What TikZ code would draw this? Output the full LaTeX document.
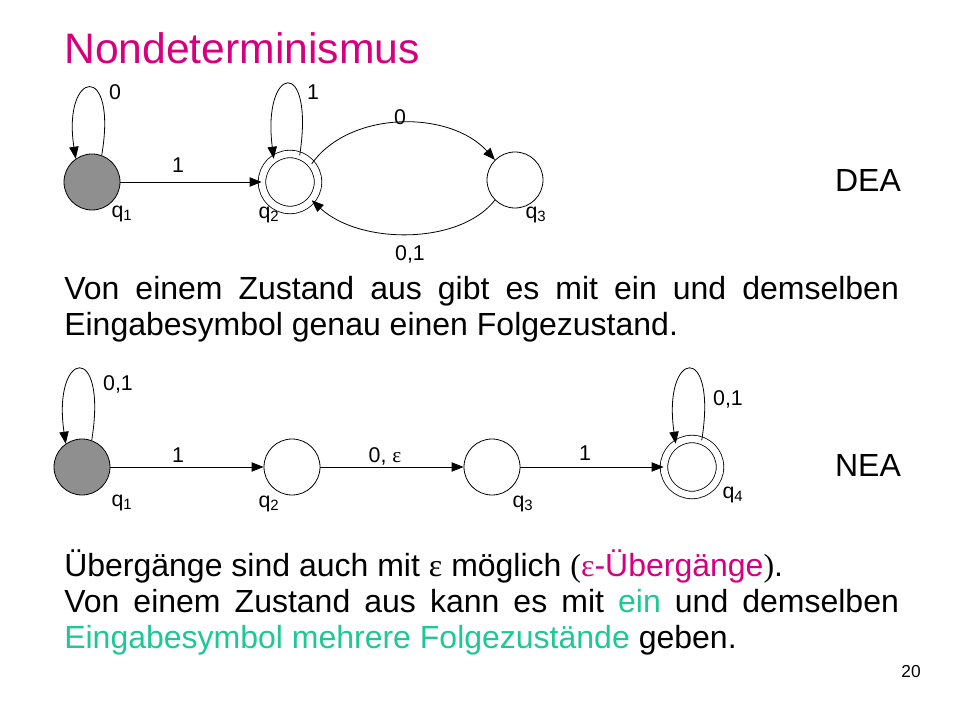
\documentclass[tikz,border=0pt]{standalone}
\usepackage{fontspec}
\setmainfont{Liberation Sans}
\newfontfamily\serf{Liberation Serif}
\usetikzlibrary{arrows.meta}
\definecolor{tmag}{RGB}{214,0,127}
\definecolor{tgreen}{RGB}{30,200,150}
\begin{document}
\begin{tikzpicture}[x=0.75pt,y=-0.75pt,
  st/.style={circle,draw,line width=0.6pt,minimum size=42pt,inner sep=0pt},
  acc/.style={st,double,double distance=5pt,minimum size=42pt},
  start/.style={st,fill=gray!90!black!80},
  lab/.style={font=\fontsize{16}{18}\selectfont,inner sep=0pt},
  big/.style={font=\fontsize{24}{27}\selectfont,inner sep=0pt},
  tr/.style={-{Triangle[length=9pt,width=7pt]},line width=0.6pt}]
\useasboundingbox (0,0) rectangle (960,720);
\node[anchor=west,text=tmag,font=\fontsize{32}{36}\selectfont,inner sep=0pt] (title) at (64,48) {Nondeterminismus};
% DEA
\node[start] (a1) at (92,182) {};
\node[acc] (a2) at (290,182) {};
\node[st] (a3) at (515,180) {};
\draw[tr] (a1) -- (a2);
\draw[tr] (a1.70) .. controls (118,60) and (62,70) .. (a1.125);
\draw[tr] (a2.70) .. controls (315,55) and (262,65) .. (a2.125);
\draw[tr] (a2.40) .. controls (350,110) and (450,110) .. (a3.135);
\draw[tr] (a3.225) .. controls (460,245) and (360,245) .. (a2.-40);
\node[lab] (l1) at (178,165) {1};
\node[lab] (l2) at (115,92) {0};
\node[lab] (l3) at (313,92) {1};
\node[lab] (l4) at (400,117) {0};
\node[lab] (l5) at (410,254) {0,1};
\node[lab] (q1) at (122,214) {q\textsubscript{1}};
\node[lab] (q2) at (269,215) {q\textsubscript{2}};
\node[lab] (q3) at (536,215) {q\textsubscript{3}};
\node[big] (dea) at (868,180) {DEA};
\node[big,anchor=north west,text width=626pt,align=justify] (t1) at (64,276)
 {Von einem Zustand aus gibt es mit ein und demselben Eingabesymbol genau einen Folgezustand.};
% NEA
\node[start] (b1) at (82,467) {};
\node[st] (b2) at (292,467) {};
\node[st] (b3) at (492,467) {};
\node[acc] (b4) at (692,467) {};
\draw[tr] (b1) -- (b2);
\draw[tr] (b2) -- (b3);
\draw[tr] (b3) -- (b4);
\draw[tr] (b1.70) .. controls (108,340) and (52,350) .. (b1.125);
\draw[tr] (b4.70) .. controls (718,340) and (662,350) .. (b4.125);
\node[lab] (m1) at (118,384) {0,1};
\node[lab] (m2) at (178,455) {1};
\node[lab] (m3) at (385,456) {0, {\serf ε}};
\node[lab] (m4) at (585,453) {1};
\node[lab] (m5) at (728,399) {0,1};
\node[lab] (p1) at (122,503) {q\textsubscript{1}};
\node[lab] (p2) at (269,504) {q\textsubscript{2}};
\node[lab] (p3) at (523,504) {q\textsubscript{3}};
\node[lab] (p4) at (733,495) {q\textsubscript{4}};
\node[big] (nea) at (868,465) {NEA};
\node[big,anchor=north west,text width=626pt,align=justify] (t2) at (64,549)
 {Übergänge sind auch mit {\serf ε} möglich {\serf (}{\color{tmag}{\serf ε}-Übergänge}{\serf )}.\\
 Von einem Zustand aus kann es mit {\color{tgreen}ein} und demselben {\color{tgreen}Eingabesymbol mehrere Folgezustände} geben.};
\node[font=\fontsize{13}{15}\selectfont,inner sep=0pt] (pg) at (911,672) {20};
\end{tikzpicture}
\end{document}
